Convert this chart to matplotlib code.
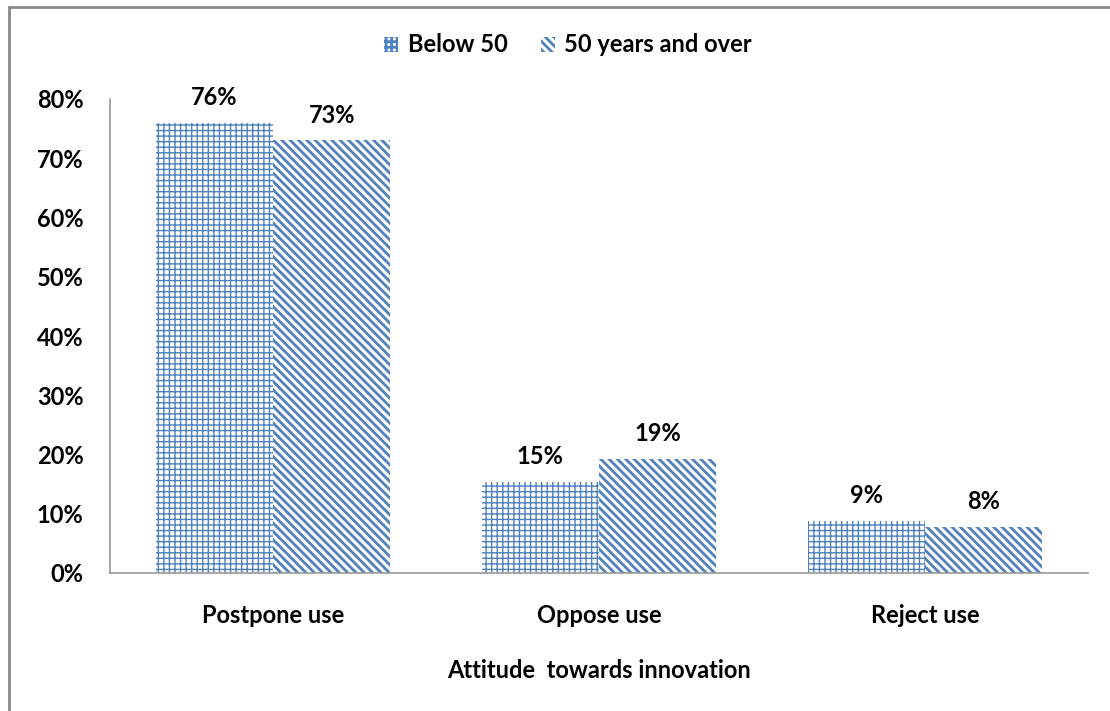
import numpy as np
import matplotlib
matplotlib.use("Agg")
import matplotlib.pyplot as plt
from matplotlib.patches import Rectangle
from matplotlib.ticker import PercentFormatter

categories = ["Postpone use", "Oppose use", "Reject use"]
below_50 = [0.76, 0.153, 0.088]
over_50 = [0.73, 0.192, 0.077]
series_names = ["Below 50", "50 years and over"]

blue = "#4F81BD"
plt.rcParams['font.family'] = ['Lato', 'DejaVu Sans']
plt.rcParams['font.weight'] = 'bold'
fs = 17

fig = plt.figure(figsize=(11.1, 7.11), dpi=100)
ax = fig.add_axes([110/1110, 1 - 573/711, (1088 - 110)/1110, (573 - 99)/711])

# outer frame of the chart area (only left/top visible in the reference)
fig.patches.append(Rectangle((9/1110, -0.1), 1.2, 1 - 7/711 + 0.1, transform=fig.transFigure,
                             fill=False, edgecolor="#888888", linewidth=2))

x = np.arange(len(categories))
w = 0.36

plt.rcParams['hatch.linewidth'] = 1.0
b1 = ax.bar(x - w/2, below_50, w, facecolor="white", edgecolor=blue, linewidth=0,
            hatch="+++", label=series_names[0])
plt.rcParams['hatch.linewidth'] = 2.0
b2 = ax.bar(x + w/2, over_50, w, facecolor="white", edgecolor=blue, linewidth=0,
            hatch="\\\\\\\\", label=series_names[1])

for bars, vals in ((b1, below_50), (b2, over_50)):
    for rect, v in zip(bars, vals):
        ax.annotate(f"{v*100:.0f}%", (rect.get_x() + rect.get_width()/2, v),
                    xytext=(0, 10), textcoords="offset points", ha="center", va="bottom",
                    fontsize=fs, fontweight="bold")

ax.set_xlim(-0.5, 2.5)
ax.set_ylim(0, 0.8)
ax.set_yticks(np.arange(0, 0.81, 0.1))
ax.yaxis.set_major_formatter(PercentFormatter(1.0, decimals=0))
ax.set_xticks(x)
ax.set_xticklabels(categories)
ax.tick_params(axis="both", length=0, labelsize=fs)
ax.tick_params(axis="y", pad=19)
ax.tick_params(axis="x", pad=22)
for lab in ax.get_xticklabels() + ax.get_yticklabels():
    lab.set_fontweight("bold")
ax.set_xlabel("Attitude  towards innovation", fontsize=fs, fontweight="bold", labelpad=23)

for s in ("top", "right"):
    ax.spines[s].set_visible(False)
for s in ("left", "bottom"):
    ax.spines[s].set_color("#999999")
    ax.spines[s].set_linewidth(1.2)

leg = fig.legend(loc="center", bbox_to_anchor=(568/1110, 1 - 45/711), ncol=2, frameon=False,
                 fontsize=fs, handlelength=0.6, handleheight=0.6, handletextpad=0.4,
                 columnspacing=1.4)
for t in leg.get_texts():
    t.set_fontweight("bold")

fig.savefig("out.png", dpi=100)
